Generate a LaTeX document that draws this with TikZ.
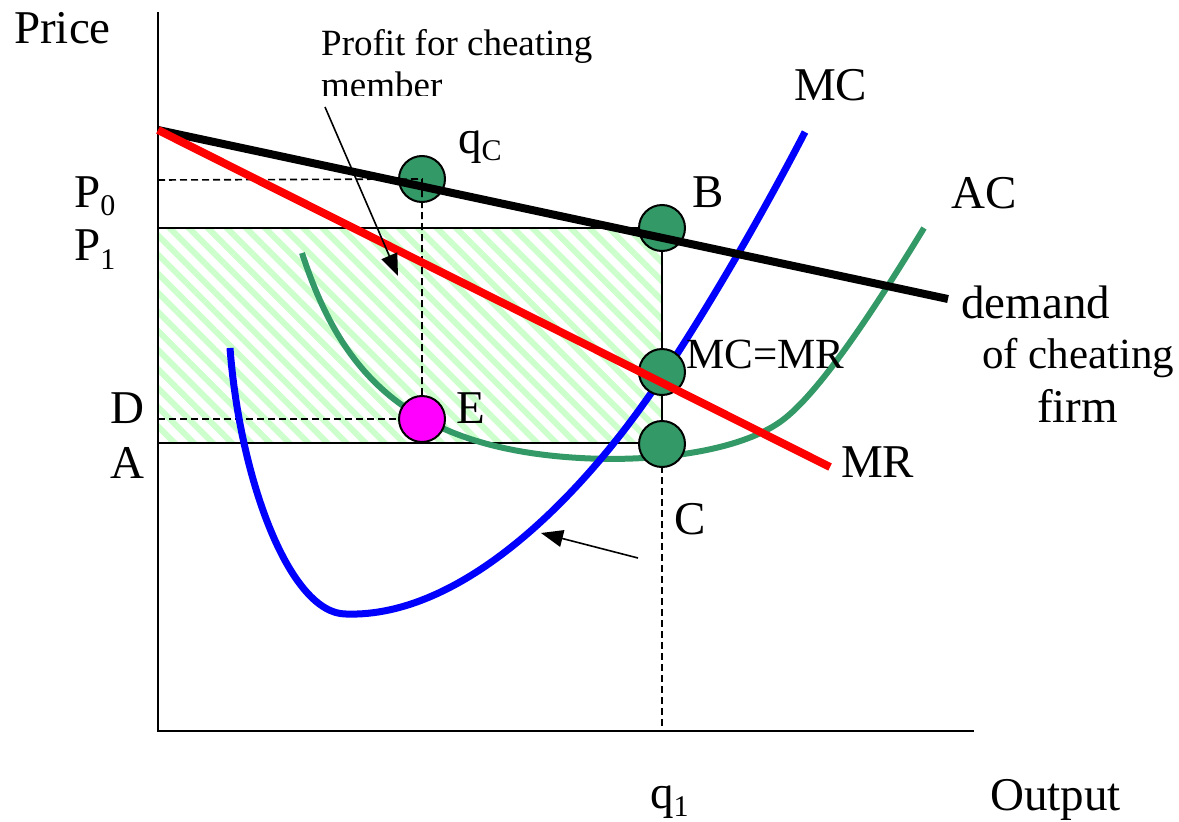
\documentclass[tikz,border=0pt]{standalone}
\usepackage{fontspec}
\setmainfont{Liberation Serif}
\usetikzlibrary{shapes.geometric,patterns.meta,arrows.meta}
\definecolor{acgreen}{HTML}{339966}
\definecolor{hatchgreen}{HTML}{CCFFCC}
\definecolor{mcblue}{HTML}{0000FF}
\definecolor{mrred}{HTML}{FF0000}
\definecolor{emag}{HTML}{FF00FF}
\newcommand\lowsub[2]{\raisebox{-#2}{\fontsize{30}{32}\selectfont #1}}
\begin{document}
\begin{tikzpicture}[x=1pt,y=-1pt,
  lbl/.style={font=\fontsize{47}{50}\selectfont, inner sep=0pt, anchor=base west},
  smalllbl/.style={font=\fontsize{37}{40}\selectfont, inner sep=0pt, anchor=base west},
  dot/.style={circle, draw=black, line width=2pt, fill=acgreen, minimum size=46pt, inner sep=0pt},
  axisline/.style={line width=2.5pt},
  thinline/.style={line width=2pt},
  dashline/.style={line width=1.6pt, dash pattern=on 7pt off 4pt},
  curve/.style={line width=7pt},
  pointer/.style={line width=1.6pt, -{Triangle[length=22pt,width=17pt]}}
]
\useasboundingbox (0,0) rectangle (1179,822);

% axes
\coordinate (ytop) at (158,12);
\coordinate (origin) at (158,731);
\coordinate (xend) at (974,731);

% hatched profit area
\fill[pattern={Lines[angle=-45,distance=13.5pt,line width=6pt]}, pattern color=hatchgreen]
  (158,228) rectangle (662,443);

\draw[axisline] (ytop) -- (origin) -- (xend);

% points
\coordinate (p0) at (158,180);
\coordinate (p1) at (158,228);
\coordinate (dd) at (158,419);
\coordinate (aa) at (158,443);
\coordinate (q1) at (662,731);

\node[dot] (qc) at (422,179) {};

% rectangle lines
\draw[thinline] (p1) -- (662,228);
\draw[thinline] (aa) -- (662,443);
\draw[thinline] (662,228) -- (662,444);
\draw[dashline] (662,444) -- (q1);
\draw[dashline] (p0) -- (qc.center) -- (422,419);
\draw[dashline] (dd) -- (422,419);

% AC curve
\draw[curve, line width=6pt, acgreen] (302,253)
  .. controls (340,370) and (405,448) .. (580,458)
  .. controls (660,462.5) and (740,450) .. (780,422)
  .. controls (820,394) and (880,300) .. (924,228);

% MC curve
\draw[curve, mcblue] (230,348)
  .. controls (240,480) and (290,614) .. (346,614)
  .. controls (460,618) and (580,500) .. (660,380)
  .. controls (720,290) and (775,190) .. (805,132);

% dots
\node[dot] (B) at (662,228) {};
\node[dot] (mcmr) at (662,372) {};
\node[dot] (C) at (662,444) {};
\node[dot, fill=emag] (E) at (422,419) {};

% demand and MR
\coordinate (dstart) at (158,130);
\coordinate (dend) at (948,299);
\coordinate (mrend) at (830,467);
\draw[curve, line width=8pt, black] (dstart) -- (dend);
\draw[curve, line width=8pt, mrred] (dstart) -- (mrend);

% arrows
\coordinate (ptail) at (325,107);
\coordinate (phead) at (398,276);
\draw[pointer] (ptail) -- (phead);
\coordinate (btail) at (638,558);
\coordinate (bhead) at (541,533);
\draw[pointer] (btail) -- (bhead);

% labels
\node[lbl] (price) at (14,43) {Price};
\node[lbl] (lp0) at (74,207) {P\lowsub{0}{8pt}};
\node[lbl] (lp1) at (74,260) {P\lowsub{1}{9pt}};
\node[lbl] (ld) at (110,423) {D};
\node[lbl] (la) at (110,478) {A};
\node[lbl] (le) at (456,423) {E};
\node[lbl] (lqc) at (458,153) {q\lowsub{C}{7pt}};
\node[lbl] (lb) at (692,207) {B};
\node[lbl] (lmc) at (794,100) {MC};
\node[lbl] (lac) at (951,208) {AC};
\node[lbl, font=\fontsize{43}{46}\selectfont] (lmcmr) at (686,368) {MC=MR};
\node[lbl] (ldem) at (961,318) {demand};
\node[lbl, font=\fontsize{43}{46}\selectfont] (lof) at (982,368) {of cheating};
\node[lbl] (lfirm) at (1037,422) {firm};
\node[lbl] (lmr) at (841,477) {MR};
\node[lbl] (lc) at (674,534) {C};
\node[lbl] (lq1) at (650,808) {q\lowsub{1}{8pt}};
\node[lbl] (lout) at (990,810) {Output};

\node[smalllbl] (profit) at (321,55) {Profit for cheating};
\begin{scope}
  \clip (300,60) rectangle (700,95);
  \node[smalllbl] (member) at (321,97) {member};
\end{scope}
\end{tikzpicture}
\end{document}
